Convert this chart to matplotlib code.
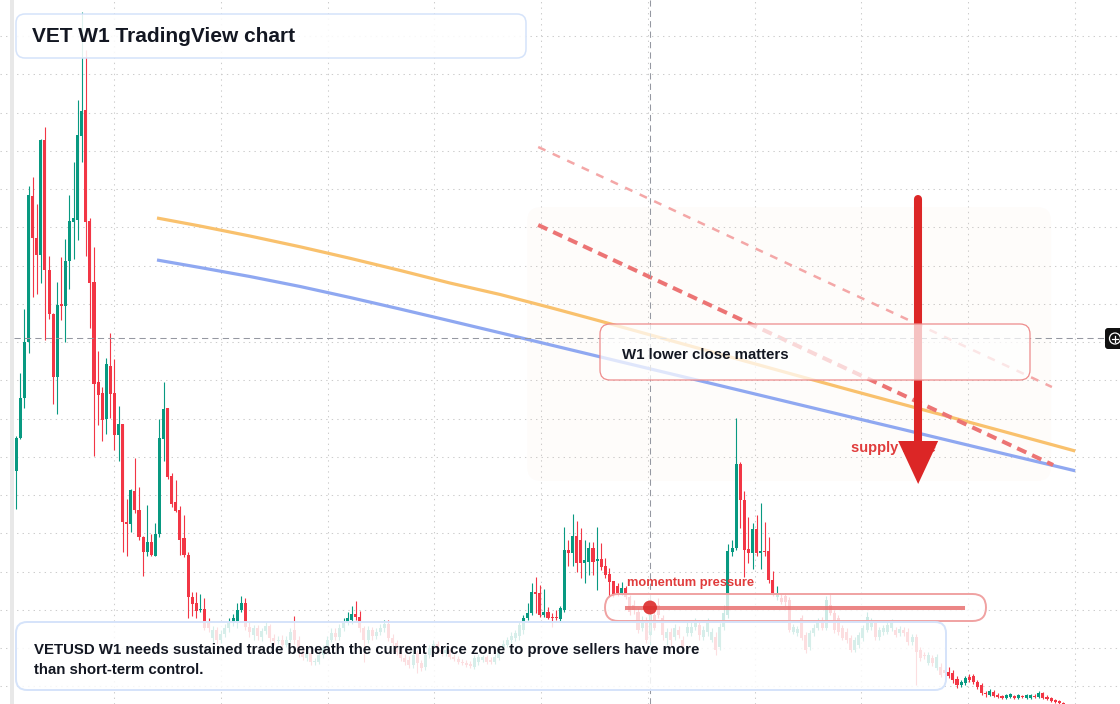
import numpy as np
import matplotlib.pyplot as plt
from matplotlib.patches import FancyBboxPatch, Rectangle, Polygon, Circle
from matplotlib.lines import Line2D

plt.rcParams['font.family'] = ['Liberation Sans', 'DejaVu Sans']

W, H, DPI = 1120, 704, 100
GREEN = '#089981'
RED = '#F23645'
INK = '#131722'

# weekly VETUSD candles, oldest first; prices in chart ticks (1 tick = 0.0004 USD)
opens = [
    249, 282, 322, 378, 524, 482, 465, 580, 450, 406,
    343, 416, 414, 459, 498, 500, 584, 610, 499, 438,
    338, 327, 301, 354, 327, 285, 296, 198, 196, 229,
    210, 183, 168, 178, 164, 186, 281, 312, 244, 218,
    210, 182, 165, 123, 117, 110, 111, 98, 82, 90,
    80, 86, 92, 98, 99, 110, 117, 93, 85, 92,
    83, 89, 94, 82, 79, 80, 75, 80, 90, 80,
    68, 62, 67, 58, 58, 65, 72, 80, 87, 83,
    92, 98, 100, 106, 103, 92, 80, 90, 84, 88,
    92, 96, 82, 77, 68, 62, 60, 55, 67, 57,
    53, 65, 72, 76, 70, 67, 70, 63, 61, 58,
    57, 56, 53, 58, 60, 63, 60, 58, 62, 72,
    75, 80, 82, 84, 90, 102, 107, 128, 127, 105,
    108, 103, 103, 101, 110, 170, 167, 184, 180, 157,
    158, 172, 159, 161, 154, 146, 139, 134, 127, 132,
    123, 115, 108, 92, 100, 85, 105, 115, 102, 82,
    88, 83, 90, 80, 87, 87, 93, 95, 83, 88,
    80, 83, 73, 93, 105, 168, 172, 256, 220, 171,
    167, 191, 167, 169, 169, 140, 123, 122, 124, 120,
    88, 87, 102, 85, 73, 87, 92, 100, 92, 115,
    107, 102, 92, 88, 82, 70, 75, 82, 90, 93,
    97, 83, 88, 88, 92, 90, 87, 90, 88, 78,
    83, 70, 65, 57, 62, 52, 53, 50, 48, 47,
    41, 35, 37, 43, 44, 38, 35, 27, 25, 28,
    25, 24, 22, 23, 24, 22, 24, 22, 22, 24,
    23, 27, 23, 22, 20, 19, 17,
]
highs = [
    284, 347, 411, 534, 543, 516, 581, 593, 464, 407,
    438, 463, 481, 525, 558, 620, 708, 670, 502, 473,
    369, 333, 362, 387, 361, 314, 296, 221, 231, 262,
    233, 184, 215, 186, 197, 301, 338, 312, 247, 240,
    214, 205, 168, 128, 128, 126, 122, 102, 94, 93,
    90, 96, 102, 106, 117, 124, 122, 98, 95, 95,
    92, 98, 96, 86, 84, 85, 84, 92, 104, 84,
    74, 72, 70, 62, 69, 75, 84, 92, 92, 96,
    102, 108, 114, 119, 109, 94, 94, 93, 92, 96,
    100, 100, 86, 80, 72, 66, 64, 70, 70, 60,
    68, 75, 80, 79, 74, 73, 72, 66, 64, 61,
    60, 59, 65, 66, 65, 65, 63, 66, 75, 80,
    83, 88, 90, 98, 105, 117, 137, 143, 135, 131,
    113, 107, 110, 114, 193, 180, 206, 199, 192, 180,
    178, 178, 193, 177, 162, 152, 139, 137, 138, 134,
    125, 120, 112, 104, 103, 110, 115, 122, 105, 92,
    92, 96, 94, 84, 98, 98, 102, 100, 94, 102,
    92, 88, 97, 115, 176, 180, 302, 258, 229, 203,
    197, 205, 217, 198, 183, 149, 134, 126, 127, 123,
    96, 94, 105, 88, 90, 96, 102, 103, 124, 126,
    110, 105, 95, 92, 85, 83, 88, 95, 108, 102,
    100, 93, 95, 98, 101, 93, 94, 93, 92, 86,
    86, 73, 68, 68, 65, 66, 57, 53, 53, 50,
    44, 40, 44, 46, 46, 40, 37, 29, 31, 30,
    27, 25, 26, 27, 25, 26, 25, 26, 26, 26,
    29, 28, 25, 23, 21, 20, 18,
]
lows = [
    211, 281, 312, 367, 423, 426, 437, 380, 401, 316,
    306, 400, 378, 431, 461, 480, 558, 464, 392, 264,
    295, 279, 286, 302, 270, 259, 168, 164, 188, 207,
    180, 144, 164, 164, 164, 183, 259, 241, 213, 208,
    165, 163, 102, 104, 102, 108, 90, 88, 78, 76,
    77, 83, 88, 94, 92, 108, 90, 83, 80, 80,
    79, 86, 78, 75, 76, 72, 73, 78, 76, 63,
    60, 59, 55, 55, 56, 62, 70, 78, 80, 80,
    89, 95, 96, 100, 88, 58, 77, 80, 81, 85,
    88, 79, 74, 65, 59, 55, 52, 52, 47, 49,
    50, 62, 69, 67, 64, 64, 61, 59, 56, 55,
    53, 52, 51, 55, 58, 56, 56, 56, 60, 70,
    73, 77, 79, 80, 86, 100, 105, 107, 103, 103,
    101, 93, 100, 99, 108, 154, 154, 148, 142, 137,
    145, 145, 130, 150, 142, 123, 123, 124, 125, 121,
    105, 106, 87, 89, 77, 75, 90, 102, 80, 75,
    74, 80, 82, 70, 84, 84, 90, 80, 80, 84,
    78, 65, 70, 90, 102, 164, 170, 192, 143, 157,
    151, 164, 151, 164, 137, 124, 120, 116, 114, 88,
    86, 84, 80, 67, 70, 84, 90, 90, 90, 105,
    87, 85, 80, 77, 68, 68, 72, 79, 88, 90,
    80, 80, 85, 86, 89, 83, 84, 84, 75, 75,
    35, 59, 61, 55, 54, 50, 43, 44, 42, 37,
    32, 33, 35, 38, 36, 31, 25, 23, 24, 23,
    22, 21, 21, 22, 21, 21, 22, 21, 21, 22,
    22, 21, 20, 18, 17, 16, 14,
]
closes = [
    282, 322, 378, 525, 482, 465, 580, 450, 406, 343,
    415, 414, 459, 499, 502, 585, 609, 498, 437, 336,
    325, 300, 356, 326, 285, 296, 198, 196, 230, 210,
    183, 168, 178, 165, 186, 282, 311, 243, 216, 209,
    180, 165, 123, 116, 109, 111, 92, 92, 90, 80,
    86, 92, 98, 102, 110, 117, 93, 88, 92, 84,
    89, 94, 82, 79, 80, 75, 80, 88, 80, 68,
    63, 67, 58, 59, 65, 72, 80, 87, 83, 92,
    98, 102, 106, 103, 92, 80, 90, 84, 88, 92,
    96, 82, 77, 68, 62, 58, 55, 65, 57, 52,
    65, 72, 76, 70, 67, 70, 63, 61, 58, 57,
    55, 54, 62, 63, 63, 58, 58, 63, 72, 76,
    80, 84, 87, 95, 102, 107, 128, 126, 105, 108,
    102, 102, 102, 112, 170, 167, 184, 157, 157, 160,
    172, 158, 161, 153, 145, 138, 126, 127, 132, 123,
    108, 110, 90, 100, 80, 105, 92, 105, 85, 88,
    80, 92, 85, 72, 93, 93, 98, 85, 90, 98,
    88, 70, 93, 107, 169, 172, 256, 220, 170, 167,
    191, 167, 169, 168, 140, 127, 127, 118, 118, 90,
    93, 91, 82, 70, 87, 92, 98, 92, 120, 107,
    90, 88, 82, 80, 70, 80, 85, 92, 103, 98,
    83, 90, 92, 95, 98, 85, 91, 87, 78, 83,
    68, 62, 64, 65, 57, 63, 45, 47, 44, 40,
    35, 38, 42, 40, 38, 33, 27, 26, 29, 24,
    23, 22, 25, 26, 22, 25, 23, 25, 25, 23,
    27, 22, 21, 19, 18, 17, 15,
]

# two smoothed moving averages, sampled by week index
ma_weeks = [34.4, 44.9, 57.1, 69.4, 81.6, 93.8, 106.0, 118.3, 130.5, 142.7,
            154.9, 167.2, 179.4, 191.6, 203.8, 216.1, 228.3, 240.5, 258.9]
ma_fast = [502, 494, 484, 473.2, 461.7, 449.6, 437, 425.5, 412.5, 399,
           385.2, 371.3, 357.5, 343.7, 330, 316.4, 303, 289.5, 269]
ma_slow = [460, 452.5, 443.5, 433.5, 422.5, 411, 399.2, 387.2, 375.2, 363.2,
           351.2, 339.2, 327.2, 315.2, 303.2, 291.2, 279.2, 267.2, 249.2]

# supply zone drawing (week index, price ticks)
zone_weeks = [124.9, 253.0]
zone_prices = [239, 513]
upper_trend_weeks = [127.6, 253.2]
upper_trend_prices = [573, 333]
lower_trend_weeks = [127.6, 253.5]
lower_trend_prices = [495, 255]
arrow_week = 220.5
arrow_prices = [521, 279, 236]   # tail, head base, tip
label_week, label_price = 204.1, 272

title = "VET W1 TradingView chart"
note = ("VETUSD W1 needs sustained trade beneath the current price zone to prove sellers have more\n"
        "than short-term control.")
callout = "W1 lower close matters"
momentum_label = "momentum pressure"
zone_label = "supply zone"


fig = plt.figure(figsize=(W / DPI, H / DPI), dpi=DPI)
ax = fig.add_axes([0, 0, 1, 1])
ax.set_xlim(-3.985, 269.85)
ax.set_ylim(16, 720)
for s in ax.spines.values():
    s.set_visible(False)

# dotted grid
ax.set_xticks(23.96 + 26.09 * np.arange(10))
ax.set_yticks(684 - 38.25 * np.arange(18))
ax.tick_params(length=0, labelbottom=False, labelleft=False)
ax.grid(True, color='#cccccc', lw=0.75, linestyle=(0, (1.3, 4)))
ax.set_axisbelow(True)

T = fig.dpi_scale_trans


def pt(x, y):
    return x / DPI, (H - y) / DPI


def pbox(x0, y0, x1, y1, r, face, edge, lw, z):
    p = FancyBboxPatch(pt(x0, y1), (x1 - x0) / DPI, (y1 - y0) / DPI,
                       boxstyle=f"round,pad=0,rounding_size={r / DPI}",
                       transform=T, facecolor=face, edgecolor=edge, lw=lw,
                       zorder=z, clip_on=False)
    ax.add_patch(p)


# supply zone backdrop
zw = zone_weeks[1] - zone_weeks[0]
zh = zone_prices[1] - zone_prices[0]
ax.add_patch(FancyBboxPatch((zone_weeks[0], zone_prices[0]), zw, zh,
                            boxstyle="round,pad=0,rounding_size=3.4",
                            mutation_aspect=4.09, facecolor='#f2b48a',
                            alpha=0.035, lw=0, zorder=1))

# candles
wk = np.arange(len(opens))
o = np.array(opens, float)
hi = np.array(highs, float)
lo = np.array(lows, float)
c = np.array(closes, float)
cols = np.where(c >= o, GREEN, RED)
ax.vlines(wk, lo, hi, colors=cols, lw=0.8, zorder=2)
ax.bar(wk, np.maximum(np.abs(c - o), 1.2), bottom=np.minimum(o, c), width=0.74,
       color=cols, lw=0, zorder=3)

# moving averages
ax.plot(ma_weeks, ma_fast, color='#f9c16d', lw=2.3, zorder=4, solid_capstyle='butt')
ax.plot(ma_weeks, ma_slow, color='#8fa8f1', lw=2.3, zorder=4, solid_capstyle='butt')

# trend lines
ax.plot(upper_trend_weeks, upper_trend_prices, color='#f4a7a7', lw=1.8,
        dashes=(3.2, 3.2), zorder=4)
ax.plot(lower_trend_weeks, lower_trend_prices, color='#ec7474', lw=2.9,
        dashes=(2.5, 1.6), zorder=4)

# crosshair
ax.add_line(Line2D([14 / DPI, 1105 / DPI], [(H - 338) / DPI] * 2, transform=T,
                   color='#9598a1', lw=0.75, dashes=(6, 4), zorder=4.5))
ax.add_line(Line2D([650 / DPI] * 2, [0, H / DPI], transform=T,
                   color='#9598a1', lw=0.75, dashes=(6, 4), zorder=4.5))

# supply zone label and arrow
ax.text(label_week, label_price, zone_label, color='#e03c3c', fontsize=10.5,
        fontweight='bold', va='center', ha='left', zorder=5)
ax.plot([arrow_week, arrow_week], arrow_prices[:2], color='#dc2626', lw=5.8,
        solid_capstyle='round', zorder=6)
hw = 20 / 4.09
ax.add_patch(Polygon([(arrow_week - hw, arrow_prices[1]), (arrow_week + hw, arrow_prices[1]),
                      (arrow_week, arrow_prices[2])], closed=True,
                     facecolor='#dc2626', lw=0, zorder=6))

# left scale strip
ax.add_patch(Rectangle(pt(10, 704), 4 / DPI, H / DPI, transform=T,
                       facecolor='#e8e8e8', lw=0, zorder=6, clip_on=False))

# annotation boxes
pbox(16, 14, 526, 58, 9, (1, 1, 1, 0.88), '#d5e3fa', 1.1, 7)
pbox(600, 324, 1030, 380, 10, (1, 1, 1, 0.72), '#ee8c8c', 0.9, 7)
pbox(605, 594, 986, 621, 13.5, (1, 1, 1, 0.8), '#f0a2a2', 1.4, 7)
pbox(16, 622, 946, 690, 11, (1, 1, 1, 0.84), '#d5e3fa', 1.4, 7)

# momentum gauge
ax.add_line(Line2D([627 / DPI, 963 / DPI], [(H - 607.5) / DPI] * 2, transform=T,
                   color='#e87070', alpha=0.85, lw=2.9, zorder=8))
ax.add_patch(Circle(pt(650, 607.5), 7 / DPI, transform=T, facecolor='#dc2a2a',
                    alpha=0.9, lw=0, zorder=8))

# texts
ax.text(*pt(32, 36), title, transform=T, fontsize=15, fontweight='bold',
        color=INK, va='center', ha='left', zorder=9)
ax.text(*pt(622, 355), callout, transform=T, fontsize=10.8, fontweight='bold',
        color=INK, va='center', ha='left', zorder=9)
ax.text(*pt(627, 583), momentum_label, transform=T, fontsize=9.3, fontweight='bold',
        color='#e03c3c', va='center', ha='left', zorder=9)
ax.text(*pt(34, 660), note, transform=T, fontsize=10.8, fontweight='bold',
        color=INK, va='center', ha='left', linespacing=1.55, zorder=9)

# crosshair price tag
pbox(1105, 328, 1124, 349, 3, '#111111', 'none', 0, 9)
ax.add_patch(Circle(pt(1115, 338.5), 5.5 / DPI, transform=T, fill=False,
                    edgecolor='white', lw=0.9, zorder=10))
ax.add_line(Line2D([1112 / DPI, 1118 / DPI], [(H - 338.5) / DPI] * 2, transform=T,
                   color='white', lw=0.9, zorder=10))
ax.add_line(Line2D([1115 / DPI] * 2, [(H - 335.5) / DPI, (H - 341.5) / DPI], transform=T,
                   color='white', lw=0.9, zorder=10))

fig.savefig('out.png', dpi=DPI)
